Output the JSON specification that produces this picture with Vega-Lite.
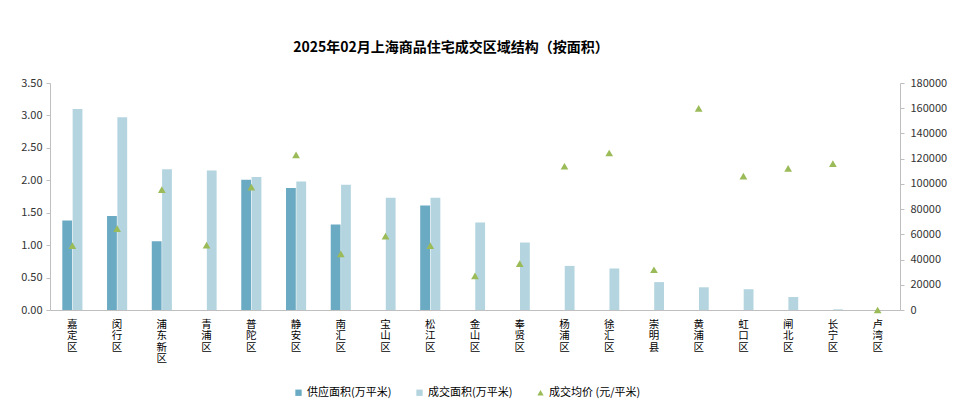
{
  "$schema": "https://vega.github.io/schema/vega-lite/v6.json",
  "width": 850,
  "height": 227,
  "autosize": {"type": "none"},
  "padding": {"left": 50, "top": 83, "right": 60, "bottom": 102},
  "background": "white",
  "title": {
    "text": "2025年02月上海商品住宅成交区域结构（按面积）",
    "fontSize": 14,
    "fontWeight": "bold",
    "font": "Noto Sans CJK SC",
    "color": "#000000",
    "anchor": "middle",
    "dx": -24,
    "offset": 22
  },
  "config": {
    "view": {"stroke": null},
    "font": "Noto Sans CJK SC",
    "axis": {"labelFont": "Noto Sans CJK SC", "labelColor": "#333333", "labelFontSize": 11, "domainColor": "#BFBFBF", "tickColor": "#BFBFBF", "grid": false, "title": null}
  },
  "data": {
    "values": [
      {"d": "嘉定区", "s": "供应面积(万平米)", "v": 1.38},
      {"d": "嘉定区", "s": "成交面积(万平米)", "v": 3.1},
      {"d": "嘉定区", "s": "成交均价 (元/平米)", "v": 51000},
      {"d": "闵行区", "s": "供应面积(万平米)", "v": 1.45},
      {"d": "闵行区", "s": "成交面积(万平米)", "v": 2.97},
      {"d": "闵行区", "s": "成交均价 (元/平米)", "v": 64500},
      {"d": "浦东新区", "s": "供应面积(万平米)", "v": 1.06},
      {"d": "浦东新区", "s": "成交面积(万平米)", "v": 2.17},
      {"d": "浦东新区", "s": "成交均价 (元/平米)", "v": 95500},
      {"d": "青浦区", "s": "成交面积(万平米)", "v": 2.15},
      {"d": "青浦区", "s": "成交均价 (元/平米)", "v": 51500},
      {"d": "普陀区", "s": "供应面积(万平米)", "v": 2.01},
      {"d": "普陀区", "s": "成交面积(万平米)", "v": 2.05},
      {"d": "普陀区", "s": "成交均价 (元/平米)", "v": 97500},
      {"d": "静安区", "s": "供应面积(万平米)", "v": 1.88},
      {"d": "静安区", "s": "成交面积(万平米)", "v": 1.98},
      {"d": "静安区", "s": "成交均价 (元/平米)", "v": 123000},
      {"d": "南汇区", "s": "供应面积(万平米)", "v": 1.32},
      {"d": "南汇区", "s": "成交面积(万平米)", "v": 1.93},
      {"d": "南汇区", "s": "成交均价 (元/平米)", "v": 44500},
      {"d": "宝山区", "s": "成交面积(万平米)", "v": 1.73},
      {"d": "宝山区", "s": "成交均价 (元/平米)", "v": 58500},
      {"d": "松江区", "s": "供应面积(万平米)", "v": 1.61},
      {"d": "松江区", "s": "成交面积(万平米)", "v": 1.73},
      {"d": "松江区", "s": "成交均价 (元/平米)", "v": 51000},
      {"d": "金山区", "s": "成交面积(万平米)", "v": 1.35},
      {"d": "金山区", "s": "成交均价 (元/平米)", "v": 27000},
      {"d": "奉贤区", "s": "成交面积(万平米)", "v": 1.04},
      {"d": "奉贤区", "s": "成交均价 (元/平米)", "v": 36700},
      {"d": "杨浦区", "s": "成交面积(万平米)", "v": 0.68},
      {"d": "杨浦区", "s": "成交均价 (元/平米)", "v": 114000},
      {"d": "徐汇区", "s": "成交面积(万平米)", "v": 0.64},
      {"d": "徐汇区", "s": "成交均价 (元/平米)", "v": 124500},
      {"d": "崇明县", "s": "成交面积(万平米)", "v": 0.43},
      {"d": "崇明县", "s": "成交均价 (元/平米)", "v": 31900},
      {"d": "黄浦区", "s": "成交面积(万平米)", "v": 0.35},
      {"d": "黄浦区", "s": "成交均价 (元/平米)", "v": 159800},
      {"d": "虹口区", "s": "成交面积(万平米)", "v": 0.32},
      {"d": "虹口区", "s": "成交均价 (元/平米)", "v": 106200},
      {"d": "闸北区", "s": "成交面积(万平米)", "v": 0.2},
      {"d": "闸北区", "s": "成交均价 (元/平米)", "v": 112300},
      {"d": "长宁区", "s": "成交面积(万平米)", "v": 0.01},
      {"d": "长宁区", "s": "成交均价 (元/平米)", "v": 116000},
      {"d": "卢湾区", "s": "成交均价 (元/平米)", "v": 0}
    ]
  },
  "encoding": {
    "x": {
      "field": "d",
      "type": "nominal",
      "sort": ["嘉定区","闵行区","浦东新区","青浦区","普陀区","静安区","南汇区","宝山区","松江区","金山区","奉贤区","杨浦区","徐汇区","崇明县","黄浦区","虹口区","闸北区","长宁区","卢湾区"],
      "scale": {"paddingInner": 0.55, "paddingOuter": 0.275},
      "axis": {"labelAngle": 0, "ticks": false, "labelPadding": 9, "labelExpr": "split(datum.label, '')", "labelLineHeight": 11.5, "labelFontSize": 10.5, "labelColor": "#000000", "labelBaseline": "top"}
    },
    "color": {
      "field": "s",
      "type": "nominal",
      "scale": {"domain": ["供应面积(万平米)", "成交面积(万平米)", "成交均价 (元/平米)"], "range": ["#6BAAC3", "#B4D5E0", "#9BBB59"]},
      "legend": {
        "title": null,
        "orient": "none",
        "direction": "horizontal",
        "legendX": 243,
        "legendY": 304,
        "labelFontSize": 11,
        "labelFont": "Noto Sans CJK SC",
        "labelColor": "#000000",
        "symbolSize": 40,
        "symbolStrokeWidth": 0,
        "columnPadding": 22,
        "labelOffset": 3,
        "encode": {"symbols": {"update": {"shape": {"signal": "datum.value === '成交均价 (元/平米)' ? 'triangle-up' : 'square'"}}}}
      }
    }
  },
  "layer": [
    {
      "transform": [{"filter": "datum.s !== '成交均价 (元/平米)'"}],
      "mark": {"type": "bar"},
      "encoding": {
        "xOffset": {"field": "s", "type": "nominal", "sort": ["供应面积(万平米)", "成交面积(万平米)"], "scale": {"domain": ["供应面积(万平米)", "成交面积(万平米)"], "paddingInner": 0.05}},
        "y": {
          "field": "v",
          "type": "quantitative",
          "scale": {"domain": [0, 3.5]},
          "axis": {"values": [0, 0.5, 1, 1.5, 2, 2.5, 3, 3.5], "format": ".2f", "tickSize": 4, "labelColor": "#333333", "labelPadding": 4, "labelFontSize": 11}
        }
      }
    },
    {
      "transform": [{"filter": "datum.s === '成交均价 (元/平米)'"}],
      "mark": {"type": "point", "shape": "triangle-up", "filled": true, "size": 60, "opacity": 1},
      "encoding": {
        "y": {
          "field": "v",
          "type": "quantitative",
          "scale": {"domain": [0, 180000]},
          "axis": {"orient": "right", "values": [0, 20000, 40000, 60000, 80000, 100000, 120000, 140000, 160000, 180000], "format": "d", "tickSize": 4, "labelColor": "#333333", "labelPadding": 6, "labelFontSize": 11}
        }
      }
    }
  ],
  "resolve": {"scale": {"y": "independent"}}
}
